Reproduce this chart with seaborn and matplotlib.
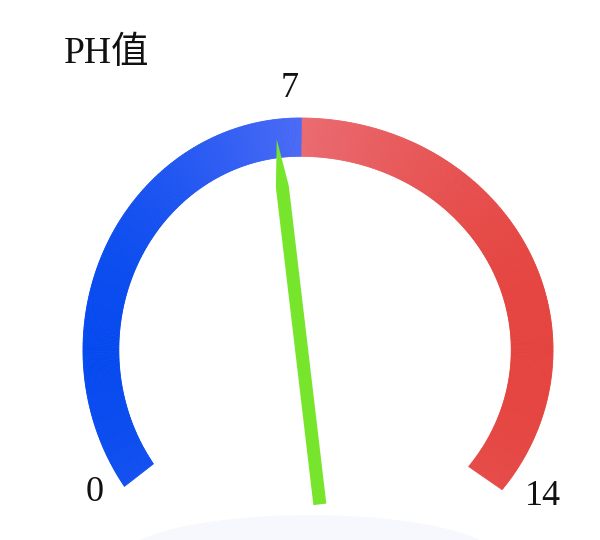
import numpy as np
import matplotlib
matplotlib.use("Agg")
from matplotlib import pyplot as plt
from matplotlib.collections import PolyCollection
from matplotlib.colors import to_rgb
from matplotlib.patches import Polygon, Ellipse
import seaborn as sns

# gauge data
title = "PH值"
gauge_min = 0
gauge_max = 14
tick_values = [0, 7, 14]
tick_labels = ["0", "7", "14"]
split_value = 7
ph_value = 6.6

# colours: left half blue, right half red (horizontal gradients)
blue_stops = ["#0047ee", "#4a6af5"]
red_stops = ["#ea6b71", "#e4403a"]
needle_color = "#76e52b"

sns.set_theme(style="white")
plt.rcParams["font.family"] = ["Liberation Serif", "Noto Sans CJK SC", "DejaVu Sans"]

# gauge geometry in pixel space (slightly squashed on the left, like the picture)
CX, CY = 300, 350
RX_LEFT, RX_RIGHT, RY = 217, 253, 232
INNER = 0.835
START, END = 216, -37


def val_to_angle(v):
    return START - (v - gauge_min) / (gauge_max - gauge_min) * (START - END)


def gauge_xy(theta, frac):
    t = np.radians(theta)
    c, s = np.cos(t), np.sin(t)
    rx = np.where(c < 0, RX_LEFT, RX_RIGHT)
    return CX + rx * frac * c, CY - RY * frac * s


def mix(c1, c2, f):
    a, b = np.array(to_rgb(c1)), np.array(to_rgb(c2))
    return tuple(a + (b - a) * np.clip(f, 0, 1))


fig = plt.figure(figsize=(6, 5.4), dpi=100)
ax = fig.add_axes([0, 0, 1, 1])
ax.set_xlim(0, 600)
ax.set_ylim(540, 0)
ax.axis("off")

# very faint floor shadow under the dial
ax.add_patch(Ellipse((CX + 10, 560), 380, 90, color="#f3f4fc", alpha=0.6, lw=0))

# arc band, drawn as many thin segments so the gradient shows
split_angle = val_to_angle(split_value)
x_left = CX - RX_LEFT
x_right = CX + RX_RIGHT
polys, colors = [], []
for a0, a1, stops, lo, hi in [
    (START, split_angle, blue_stops, x_left, CX),
    (split_angle, END, red_stops, CX, x_right),
]:
    angs = np.linspace(a0, a1, 260)
    for t0, t1 in zip(angs[:-1], angs[1:]):
        ox0, oy0 = gauge_xy(t0, 1)
        ox1, oy1 = gauge_xy(t1, 1)
        ix1, iy1 = gauge_xy(t1, INNER)
        ix0, iy0 = gauge_xy(t0, INNER)
        polys.append([(ox0, oy0), (ox1, oy1), (ix1, iy1), (ix0, iy0)])
        xm = (ox0 + ox1 + ix0 + ix1) / 4
        colors.append(mix(stops[0], stops[1], (xm - lo) / (hi - lo)))
ax.add_collection(PolyCollection(polys, facecolors=colors, edgecolors=colors, linewidths=0.6))

# needle
ang = val_to_angle(ph_value)
tip = np.array(gauge_xy(ang, 0.915), dtype=float)
tail = np.array(gauge_xy(ang + 180, 0.67), dtype=float)
d = (tip - tail) / np.linalg.norm(tip - tail)
n = np.array([-d[1], d[0]])
w = 6.5
shoulder = tail + (tip - tail) * 0.87
needle = [tail + n * w, shoulder + n * w, tip, shoulder - n * w, tail - n * w]
ax.add_patch(Polygon(needle, closed=True, color=needle_color, lw=0))

# axis labels just outside the band
for v, lab in zip(tick_values, tick_labels):
    a = val_to_angle(v)
    a = a + np.sign(90 - a) * 3
    lx, ly = gauge_xy(a, 1.13)
    ax.text(lx + (6 if v == gauge_max else 0), ly, lab, ha="center", va="center",
            fontsize=26, color="#111111")

ax.text(64, 63, title, ha="left", va="baseline", fontsize=27, color="#111111")

fig.savefig("out.png", dpi=100, facecolor="white")
